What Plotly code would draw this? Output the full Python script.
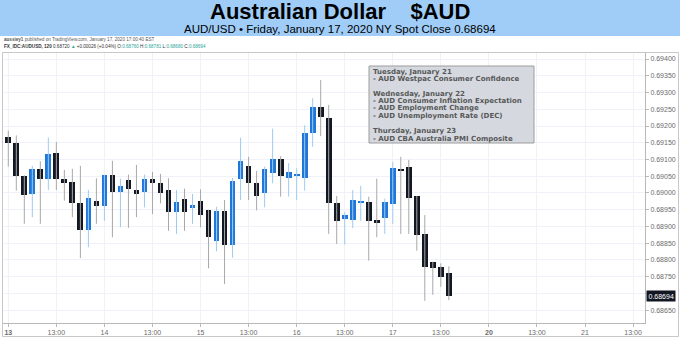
import plotly.graph_objects as go

# ---------------- data ----------------
opens = [0.69166, 0.69148, 0.69051, 0.68996, 0.69072, 0.69041, 0.69118, 0.69043, 0.69033, 0.68969,
         0.68890, 0.68975, 0.68960, 0.69053, 0.69002, 0.69039, 0.69009, 0.69002, 0.69042, 0.69031,
         0.69009, 0.68942, 0.68981, 0.68956, 0.68975, 0.68949, 0.68856, 0.68945, 0.68846, 0.69043,
         0.69081, 0.69029, 0.68999, 0.69059, 0.69101, 0.69045, 0.69051, 0.69045, 0.69178, 0.69258,
         0.69223, 0.68969, 0.68922, 0.68919, 0.68971, 0.68973, 0.68919, 0.68925, 0.68966, 0.69072,
         0.69077, 0.68990, 0.68877, 0.68794, 0.68778, 0.68760]
highs = [0.69186, 0.69172, 0.69053, 0.69081, 0.69095, 0.69166, 0.69152, 0.69069, 0.69072, 0.69081,
         0.69009, 0.69044, 0.69054, 0.69096, 0.69043, 0.69055, 0.69084, 0.69055, 0.69063, 0.69057,
         0.69044, 0.69009, 0.69013, 0.68997, 0.69011, 0.68950, 0.68959, 0.68979, 0.69045, 0.69165,
         0.69108, 0.69066, 0.69079, 0.69192, 0.69110, 0.69089, 0.69074, 0.69202, 0.69283, 0.69337,
         0.69263, 0.68991, 0.68943, 0.69009, 0.69021, 0.68989, 0.69043, 0.68983, 0.69093, 0.69108,
         0.69099, 0.68991, 0.68934, 0.68795, 0.68790, 0.68781]
lows = [0.69079, 0.69007, 0.68908, 0.68928, 0.68908, 0.69009, 0.69009, 0.68977, 0.68928, 0.68806,
        0.68838, 0.68908, 0.68917, 0.68868, 0.68898, 0.68896, 0.68928, 0.68957, 0.68937, 0.68969,
        0.68887, 0.68878, 0.68887, 0.68908, 0.68898, 0.68775, 0.68826, 0.68728, 0.68807, 0.68979,
        0.68979, 0.68948, 0.68957, 0.69029, 0.68989, 0.68989, 0.68979, 0.69007, 0.69138, 0.69170,
        0.68878, 0.68848, 0.68846, 0.68895, 0.68917, 0.68798, 0.68868, 0.68878, 0.68908, 0.68878,
        0.68878, 0.68828, 0.68678, 0.68696, 0.68720, 0.68680]
closes = [0.69148, 0.69051, 0.68993, 0.69072, 0.69041, 0.69116, 0.69043, 0.69031, 0.68969, 0.68890,
          0.68986, 0.68960, 0.69053, 0.69003, 0.69022, 0.69011, 0.68997, 0.69042, 0.69029, 0.68999,
          0.68944, 0.68972, 0.68942, 0.68963, 0.68933, 0.68868, 0.68945, 0.68844, 0.69035, 0.69095,
          0.69029, 0.68992, 0.69072, 0.69101, 0.69051, 0.69064, 0.69054, 0.69178, 0.69258, 0.69228,
          0.68969, 0.68916, 0.68934, 0.68979, 0.68974, 0.68916, 0.68910, 0.68972, 0.69074, 0.69068,
          0.68985, 0.68874, 0.68780, 0.68777, 0.68750, 0.68694]
bar_index = list(range(len(opens)))

x_tick_index = [0, 6, 12, 18, 24, 30, 36, 42, 48, 54, 60, 66, 72, 78]
x_tick_labels = ["<b>13</b>", "13:00", "14", "13:00", "15", "13:00", "16", "13:00",
                 "17", "13:00", "<b>20</b>", "13:00", "21", "13:00"]
price_ticks = [0.68650, 0.68700, 0.68750, 0.68800, 0.68850, 0.68900, 0.68950, 0.69000,
               0.69050, 0.69100, 0.69150, 0.69200, 0.69250, 0.69300, 0.69350, 0.69400]
# 0.68700 is hidden behind the last-price label in the reference
price_tick_labels = ["0.68650", "", "0.68750", "0.68800", "0.68850", "0.68900", "0.68950", "0.69000",
                     "0.69050", "0.69100", "0.69150", "0.69200", "0.69250", "0.69300", "0.69350", "0.69400"]

title_text = "Australian Dollar&nbsp;&nbsp;&nbsp;&nbsp;$AUD"
subtitle_text = "AUD/USD • Friday, January 17, 2020 NY Spot Close 0.68694"
event_lines = [
    "Tuesday, January 21",
    "- AUD Westpac Consumer Confidence",
    "Wednesday, January 22",
    "- AUD Consumer Inflation Expectation",
    "- AUD Employment Change",
    "- AUD Unemployment Rate (DEC)",
    "Thursday, January 23",
    "- AUD CBA Australia PMI Composite",
]

# ---------------- layout helpers (pixel -> paper) ----------------
W, H = 680, 338
ML, MR, MT, MB = 3, 35, 52, 15
PW, PH = W - ML - MR, H - MT - MB


def px(x):
    return (x - ML) / PW


def py(y):
    return (H - MB - y) / PH


BULL, BEAR = "#1f78d8", "#131722"
BULL_WICK, BEAR_WICK = "#9fcaf2", "#a8a8a8"

fig = go.Figure()

# wicks
for is_bull, col in ((True, BULL_WICK), (False, BEAR_WICK)):
    wx, wy = [], []
    for i, o, h, l, c in zip(bar_index, opens, highs, lows, closes):
        if (c >= o) == is_bull:
            wx += [i, i, None]
            wy += [l, h, None]
    fig.add_trace(go.Scatter(x=wx, y=wy, mode="lines", line=dict(color=col, width=1),
                             hoverinfo="skip", showlegend=False))

# bodies
for is_bull, col in ((True, BULL), (False, BEAR)):
    bx, bb, bh = [], [], []
    for i, o, c in zip(bar_index, opens, closes):
        if (c >= o) == is_bull:
            bx.append(i)
            bb.append(min(o, c))
            bh.append(abs(c - o))
    fig.add_trace(go.Bar(x=bx, y=bh, base=bb, width=0.72, marker=dict(color=col, line=dict(width=0)),
                         showlegend=False, hoverinfo="skip"))

shapes = [
    # title banner
    dict(type="rect", xref="paper", yref="paper", x0=px(0), x1=px(W), y0=py(36), y1=py(0),
         fillcolor="#9fcdf7", line=dict(width=0), layer="below"),
    # outer frame
    dict(type="rect", xref="paper", yref="paper", x0=px(2.5), x1=px(678.5), y0=py(336.5), y1=py(52.5),
         fillcolor="rgba(0,0,0,0)", line=dict(color="#c8c8c8", width=1)),
    # event box
    dict(type="rect", xref="paper", yref="paper", x0=px(369), x1=px(534), y0=py(143), y1=py(66),
         fillcolor="#d5d8df", line=dict(color="#9c9c9c", width=1), layer="above"),
]

annotations = [
    dict(xref="paper", yref="paper", x=px(340), y=py(11), text="<b>" + title_text + "</b>",
         showarrow=False, xanchor="center", yanchor="middle",
         font=dict(family="Liberation Sans", size=22, color="#000000")),
    dict(xref="paper", yref="paper", x=px(340), y=py(29.5), text=subtitle_text,
         showarrow=False, xanchor="center", yanchor="middle",
         font=dict(family="Liberation Sans", size=11.5, color="#000000")),
    dict(xref="paper", yref="paper", x=px(2), y=py(40),
         text="<b>aussiey1</b> published on TradingView.com, January 17, 2020 17:00:40 EST",
         showarrow=False, xanchor="left", yanchor="middle",
         font=dict(family="Liberation Sans", size=4.6, color="#555555")),
    dict(xref="paper", yref="paper", x=px(2), y=py(46.5),
         text=("<b>FX_IDC:AUDUSD, 120</b> 0.68720 <span style='color:#26a69a'>▲</span> +0.00026 (+0.04%) "
               "O:<span style='color:#26a69a'>0.68760</span> H:<span style='color:#26a69a'>0.68781</span> "
               "L:<span style='color:#26a69a'>0.68680</span> C:<span style='color:#26a69a'>0.68694</span>"),
         showarrow=False, xanchor="left", yanchor="middle",
         font=dict(family="Liberation Sans", size=4.6, color="#333333")),
    # last price label
    dict(xref="paper", yref="y", x=1.0, y=closes[-1], text=f"{closes[-1]:.5f}",
         showarrow=False, xanchor="left", yanchor="middle", xshift=1,
         bgcolor="#131722", borderpad=1.5,
         font=dict(family="Liberation Sans", size=7, color="#ffffff")),
]

line_y = [72, 79.5, 93.5, 101, 108.5, 116, 131, 138.5]
for txt, yy in zip(event_lines, line_y):
    annotations.append(dict(xref="paper", yref="paper", x=px(371), y=py(yy), text="<b>" + txt + "</b>",
                            showarrow=False, xanchor="left", yanchor="middle",
                            font=dict(family="DejaVu Sans", size=7, color="#585858")))

fig.update_layout(
    width=W, height=H,
    margin=dict(l=ML, r=MR, t=MT, b=MB),
    paper_bgcolor="#ffffff", plot_bgcolor="#ffffff",
    barmode="overlay", bargap=0,
    showlegend=False,
    shapes=shapes, annotations=annotations,
    xaxis=dict(range=[-0.66, 79.49], tickmode="array", tickvals=x_tick_index, ticktext=x_tick_labels,
               showgrid=True, gridcolor="#eff3f9", gridwidth=1, zeroline=False,
               showline=True, linecolor="#b8b8b8", linewidth=1, mirror=False,
               ticks="outside", ticklen=3, tickcolor="#b8b8b8",
               tickfont=dict(family="Liberation Sans", size=7, color="#6b6b6b")),
    yaxis=dict(range=[0.686119, 0.694209], side="right", tickmode="array", tickvals=price_ticks,
               ticktext=price_tick_labels, showgrid=True, gridcolor="#eff3f9", gridwidth=1, zeroline=False,
               showline=True, linecolor="#b8b8b8", linewidth=1,
               ticks="outside", ticklen=3, tickcolor="#b8b8b8",
               tickfont=dict(family="Liberation Sans", size=7, color="#6b6b6b")),
)

fig.write_html("out.html")
